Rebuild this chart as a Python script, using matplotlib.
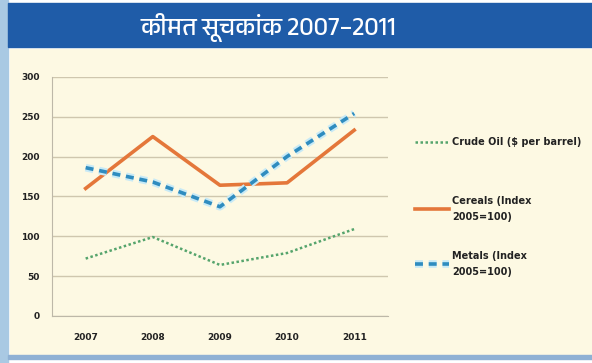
import matplotlib.pyplot as plt
from matplotlib import font_manager
from matplotlib.patches import Rectangle
import matplotlib.patheffects as pe

years = ['2007', '2008', '2009', '2010', '2011']
crude_oil = [72, 99, 64, 79, 109]
cereals = [160, 225, 164, 167, 233]
metals = [186, 168, 137, 200, 254]
yticks = [0, 50, 100, 150, 200, 250, 300]
title = 'कीमत सूचकांक 2007–2011'
labels = ['Crude Oil ($ per barrel)', 'Cereals (Index\n2005=100)', 'Metals (Index\n2005=100)']

# cerca una font con devanagari, se esiste
deva = None
for f in font_manager.fontManager.ttflist:
    if 'Devanagari' in f.name or 'Lohit' in f.name or 'Mangal' in f.name:
        deva = f.name
        break
title_fonts = [deva, 'DejaVu Sans'] if deva else ['DejaVu Sans']

cream = '#fdf9e3'
fig = plt.figure(figsize=(5.92, 3.63), dpi=100)
fig.patch.set_facecolor('white')

# cornice e fondo
def rett(xy, w, h, c):
    fig.patches.append(Rectangle(xy, w, h, transform=fig.transFigure, color=c, zorder=-5))

rett((0, 0), 0.014, 1, '#a9c9e3')
rett((0.017, 0.02), 0.983, 0.845, cream)
rett((0.014, 0.871), 0.986, 0.122, '#1f5ca8')
rett((0.014, 0.012), 0.986, 0.01, '#8fb1d4')
fig.text(0.453, 0.925, title, color='white', fontsize=18, fontweight='bold',
         ha='center', va='center', family=title_fonts)

ax = fig.add_axes([0.088, 0.1295, 0.567, 0.659])
ax.set_facecolor(cream)
x = range(len(years))
l1, = ax.plot(x, crude_oil, color='#55a46c', lw=1.8, ls=(0, (1, 1)))
l2, = ax.plot(x, cereals, color='#e4773a', lw=2.6)
l3, = ax.plot(x, metals, color='#2f8cbf', lw=2.6, ls=(0, (2.2, 1.6)),
              path_effects=[pe.Stroke(linewidth=5.5, foreground='#c8eaf6'), pe.Normal()])

ax.set_ylim(0, 300)
ax.set_xlim(-0.5, 4.5)
ax.set_yticks(yticks)
ax.set_xticks(list(x))
ax.set_xticklabels(years)
ax.grid(axis='y', color='#cfc7ae', lw=1)
ax.set_axisbelow(True)
for s in ['top', 'right']:
    ax.spines[s].set_visible(False)
for s in ['left', 'bottom']:
    ax.spines[s].set_color('#bdb8a8')
ax.tick_params(length=0, labelsize=6.5, colors='#222222')
ax.tick_params(axis='y', pad=9)
ax.tick_params(axis='x', pad=12)
for t in ax.get_xticklabels() + ax.get_yticklabels():
    t.set_fontweight('bold')

# una legenda per voce, come nell'originale le voci non sono equidistanti
for h, lab, yy in zip([l1, l2, l3], labels, [0.609, 0.425, 0.273]):
    leg = fig.legend([h], [lab], loc='center left', bbox_to_anchor=(0.695, yy), frameon=False,
                     fontsize=7, handlelength=3.5, handletextpad=0.3, borderaxespad=0)
    for t in leg.get_texts():
        t.set_fontweight('bold')
        t.set_color('#222222')
        t.set_linespacing(1.8)

fig.savefig('out.png', dpi=100, facecolor=fig.get_facecolor())
